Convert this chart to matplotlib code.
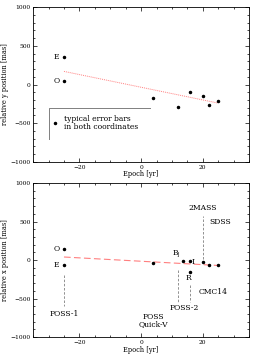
import numpy as np
import matplotlib.pyplot as plt
from matplotlib.ticker import MultipleLocator

plt.rcParams['font.family'] = ['DejaVu Serif']

# top panel: relative y position
y_epoch = [-25, -25, 4, 12, 16, 20, 22, 25]
y_pos = [350, 40, -180, -290, -90, -150, -260, -210]
y_fit_epoch = [-25, 25]
y_fit = [170, -240]

# bottom panel: relative x position
x_epoch = [-25, -25, 4, 13.5, 16, 16, 20, 22, 25]
x_pos = [150, -60, -40, -10, -10, -150, -20, -60, -70]
x_fit_epoch = [-25, 25]
x_fit = [40, -70]

fit_color = '#ff7f7f'
fs = 5.5      # annotations
fs_tick = 4.3
fs_lab = 4.8

fig = plt.figure(figsize=(2.65, 3.59), dpi=100)
ax1 = fig.add_axes([0.125, 0.549, 0.815, 0.431])
ax2 = fig.add_axes([0.125, 0.061, 0.815, 0.429])


def style(ax, ylabel):
    ax.set_xlim(-35, 35)
    ax.set_ylim(-1000, 1000)
    ax.xaxis.set_major_locator(MultipleLocator(20))
    ax.xaxis.set_minor_locator(MultipleLocator(5))
    ax.yaxis.set_major_locator(MultipleLocator(500))
    ax.yaxis.set_minor_locator(MultipleLocator(100))
    ax.tick_params(which='both', direction='in', top=True, right=True,
                   labelsize=fs_tick, width=0.5, pad=2)
    ax.tick_params(which='major', length=3)
    ax.tick_params(which='minor', length=1.5)
    for s in ax.spines.values():
        s.set_linewidth(0.6)
    ax.set_xlabel('Epoch [yr]', fontsize=fs_lab, labelpad=0.5)
    ax.set_ylabel(ylabel, fontsize=fs_lab, labelpad=1)


# top panel
ax1.plot(y_fit_epoch, y_fit, color=fit_color, lw=0.7, ls=(0, (1, 1)))
ax1.plot(y_epoch, y_pos, 'o', color='black', ms=1.5)
ax1.text(-26.5, 350, 'E', fontsize=fs, ha='right', va='center')
ax1.text(-26.5, 40, 'O', fontsize=fs, ha='right', va='center')
ax1.plot([-30, -30, 3], [-700, -300, -300], color='gray', lw=0.7)
ax1.plot([-28], [-500], 'o', color='black', ms=1.5)
ax1.text(-25, -500, 'typical error bars\nin both coordinates', fontsize=fs,
         va='center', linespacing=1.0)
style(ax1, 'relative y position [mas]')

# bottom panel
ax2.plot(x_fit_epoch, x_fit, color=fit_color, lw=0.8, ls=(0, (6, 3)))
ax2.plot(x_epoch, x_pos, 'o', color='black', ms=1.5)
ax2.text(-26.5, 150, 'O', fontsize=fs, ha='right', va='center')
ax2.text(-26.5, -60, 'E', fontsize=fs, ha='right', va='center')
ax2.text(12.8, 0, r'B$_{\rm J}$', fontsize=fs, ha='right', va='bottom')
ax2.text(16.5, -20, 'I', fontsize=fs, ha='left', va='center')
ax2.text(15.5, -180, 'R', fontsize=fs, ha='center', va='top')

# survey markers
vlines = [(-25, -200, -600), (12, -130, -550), (16, -320, -550), (20, 10, 570)]
for x, y0, y1 in vlines:
    ax2.plot([x, x], [y0, y1], color='gray', lw=0.6, ls=(0, (3, 2)))
ax2.text(-25, -700, 'POSS-1', fontsize=fs, ha='center', va='center')
ax2.text(14, -625, 'POSS-2', fontsize=fs, ha='center', va='center')
ax2.text(4, -740, 'POSS', fontsize=fs, ha='center', va='center')
ax2.text(4, -835, 'Quick-V', fontsize=fs, ha='center', va='center')
ax2.text(18.5, -415, 'CMC14', fontsize=fs, ha='left', va='center')
ax2.text(20, 675, '2MASS', fontsize=fs, ha='center', va='center')
ax2.text(22, 495, 'SDSS', fontsize=fs, ha='left', va='center')
style(ax2, 'relative x position [mas]')

fig.savefig('out.png', dpi=100)
